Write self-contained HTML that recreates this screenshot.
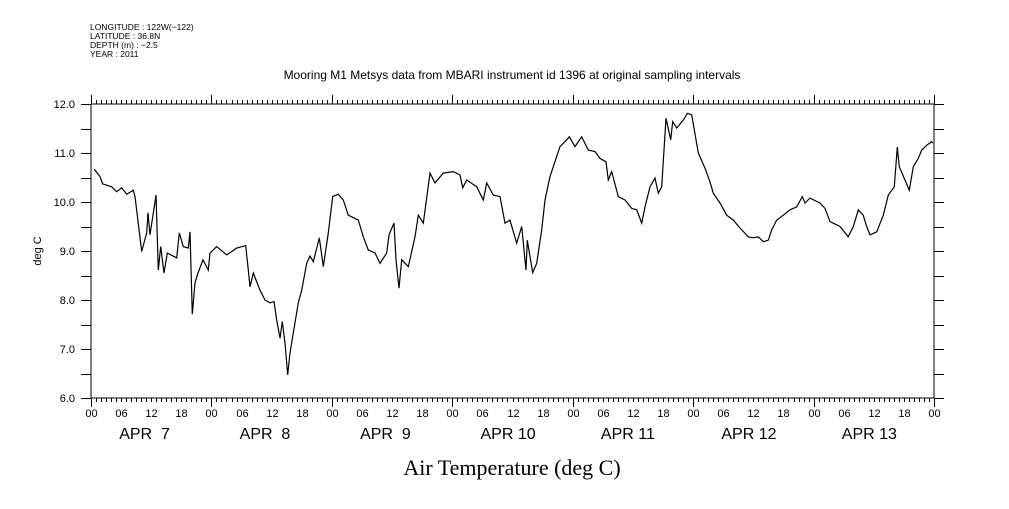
<!DOCTYPE html>
<html><head><meta charset="utf-8"><style>
body{margin:0;background:#fff;}
svg text{font-family:"Liberation Sans",sans-serif;fill:#000;}
</style></head><body>
<svg id="chart" width="1009" height="504" xmlns="http://www.w3.org/2000/svg">
<g font-size="8.5">
<text x="90" y="30">LONGITUDE : 122W(−122)</text>
<text x="90" y="39">LATITUDE : 36.8N</text>
<text x="90" y="48">DEPTH (m) : −2.5</text>
<text x="90" y="57">YEAR : 2011</text>
</g>
<text x="512" y="79" text-anchor="middle" font-size="12">Mooring M1 Metsys data from MBARI instrument id 1396 at original sampling intervals</text>
<text x="0" y="0" font-size="11" text-anchor="middle" transform="translate(41,251) rotate(-90)">deg C</text>
<text x="512" y="475" text-anchor="middle" font-size="22" style="font-family:'Liberation Serif',serif">Air Temperature (deg C)</text>
<g id="axes"></g>
<path id="line" fill="none" stroke="#000" stroke-width="1.2"/>
</svg>
<script>
const hours=[0.66,1.79,2.33,4.13,5.12,6.12,7.11,8.43,8.77,10.10,11.10,11.36,11.76,12.95,13.41,13.89,14.55,15.21,17.08,17.60,18.39,19.39,19.73,20.19,20.73,21.32,22.32,23.38,23.71,25.05,27.04,29.04,30.83,31.35,31.69,32.34,33.68,34.68,35.67,36.47,37.01,37.67,38.12,38.66,39.20,39.66,40.32,41.31,41.99,42.99,43.64,44.30,45.50,46.29,47.29,48.17,49.28,50.28,51.28,53.27,54.27,55.26,56.60,57.59,58.93,59.39,60.38,60.78,61.38,61.92,63.23,64.57,65.23,66.22,67.56,68.55,70.21,72.20,73.54,74.08,74.87,76.86,78.18,78.86,80.17,81.51,82.50,83.49,84.83,85.83,86.69,86.95,88.02,88.82,89.82,90.47,91.47,92.13,93.46,94.80,95.32,96.45,97.79,99.10,100.44,101.43,102.63,103.09,103.77,105.08,106.42,107.75,108.75,109.74,110.40,111.40,112.40,113.05,113.73,114.59,115.52,115.92,116.72,118.03,118.83,119.71,121.02,122.36,123.36,124.01,125.35,126.68,128.0,129.33,130.99,131.98,132.98,133.98,134.97,135.65,136.65,137.96,139.30,140.63,141.75,142.29,143.28,145.27,146.27,147.27,149.26,150.91,151.91,152.91,153.90,154.58,155.24,156.58,157.89,158.89,160.08,160.68,161.08,163.07,163.87,164.87,165.55,166.54,167.54,167.74];
const temps=[10.67,10.52,10.37,10.31,10.21,10.29,10.16,10.24,10.11,8.99,9.37,9.78,9.33,10.14,8.61,9.09,8.55,8.96,8.86,9.37,9.09,9.06,9.39,7.71,8.35,8.55,8.82,8.61,8.96,9.09,8.92,9.06,9.11,8.61,8.27,8.55,8.20,8.0,7.94,7.97,7.59,7.22,7.56,7.12,6.47,6.92,7.33,7.94,8.20,8.75,8.90,8.78,9.27,8.68,9.37,10.11,10.16,10.04,9.73,9.63,9.29,9.02,8.96,8.75,8.96,9.33,9.57,8.82,8.24,8.82,8.68,9.29,9.73,9.57,10.59,10.39,10.59,10.62,10.55,10.29,10.45,10.31,10.04,10.39,10.14,10.11,9.57,9.63,9.16,9.50,8.61,9.22,8.56,8.75,9.43,10.04,10.52,10.72,11.13,11.27,11.33,11.13,11.33,11.06,11.03,10.89,10.82,10.45,10.62,10.11,10.04,9.87,9.84,9.57,9.90,10.31,10.49,10.18,10.31,11.71,11.27,11.64,11.51,11.67,11.81,11.78,11.0,10.69,10.41,10.18,9.98,9.73,9.63,9.47,9.29,9.27,9.29,9.19,9.22,9.43,9.63,9.73,9.84,9.90,10.11,9.98,10.08,9.98,9.87,9.60,9.50,9.29,9.50,9.84,9.73,9.50,9.33,9.39,9.73,10.14,10.31,11.12,10.72,10.24,10.72,10.89,11.06,11.16,11.23,11.20];
const yTickLabels=["6.0","7.0","8.0","9.0","10.0","11.0","12.0"];
const hourLabels=["00","06","12","18"];
const dayLabels=["APR  7","APR  8","APR  9","APR 10","APR 11","APR 12","APR 13"];
const L=91,R=934,T=104,B=398,ymin=6,ymax=12,H=168;
const X=h=>L+(R-L)*h/H, Y=v=>B-(B-T)*(v-ymin)/(ymax-ymin);
const NS="http://www.w3.org/2000/svg", g=document.getElementById('axes');
function ln(x1,y1,x2,y2){const e=document.createElementNS(NS,'line');e.setAttribute('x1',x1);e.setAttribute('y1',y1);e.setAttribute('x2',x2);e.setAttribute('y2',y2);e.setAttribute('stroke','#000');e.setAttribute('stroke-width','1');


g.appendChild(e);return e;}
function tx(x,y,s,size,anchor){const e=document.createElementNS(NS,'text');e.setAttribute('x',x);e.setAttribute('y',y);e.setAttribute('font-size',size);e.setAttribute('text-anchor',anchor);e.textContent=s;


g.appendChild(e);return e;}
const fr=ln(L,T,R,T);
const fb=ln(L,B,R,B);
ln(L,T,L,B);
ln(R,T,R,B);
for(let h=0;h<=H;h++){const x=Math.round(X(h))+0.5;const big=h%24===0;
ln(x,T,x,T-(big?9:4));ln(x,B,x,B+(big?9:4));
if(h%6===0)tx(x,417,hourLabels[(h/6)%4],11,'middle');}
dayLabels.forEach((d,i)=>{const t=tx(X(i*24+12)-32,439,d,16,'start');t.setAttribute('xml:space','preserve');t.style.whiteSpace='pre';});
for(let v=ymin;v<=ymax+1e-9;v+=0.5){const y=Math.round(Y(v))+0.5;ln(L-10,y,L,y);ln(R,y,R+10,y);}
yTickLabels.forEach(s=>{tx(75,Y(parseFloat(s))+4,s,11,'end');});
document.getElementById('line').setAttribute('d',hours.map((h,i)=>(i?'L':'M')+X(h).toFixed(1)+','+Y(temps[i]).toFixed(1)).join(''));
</script>
</body></html>
